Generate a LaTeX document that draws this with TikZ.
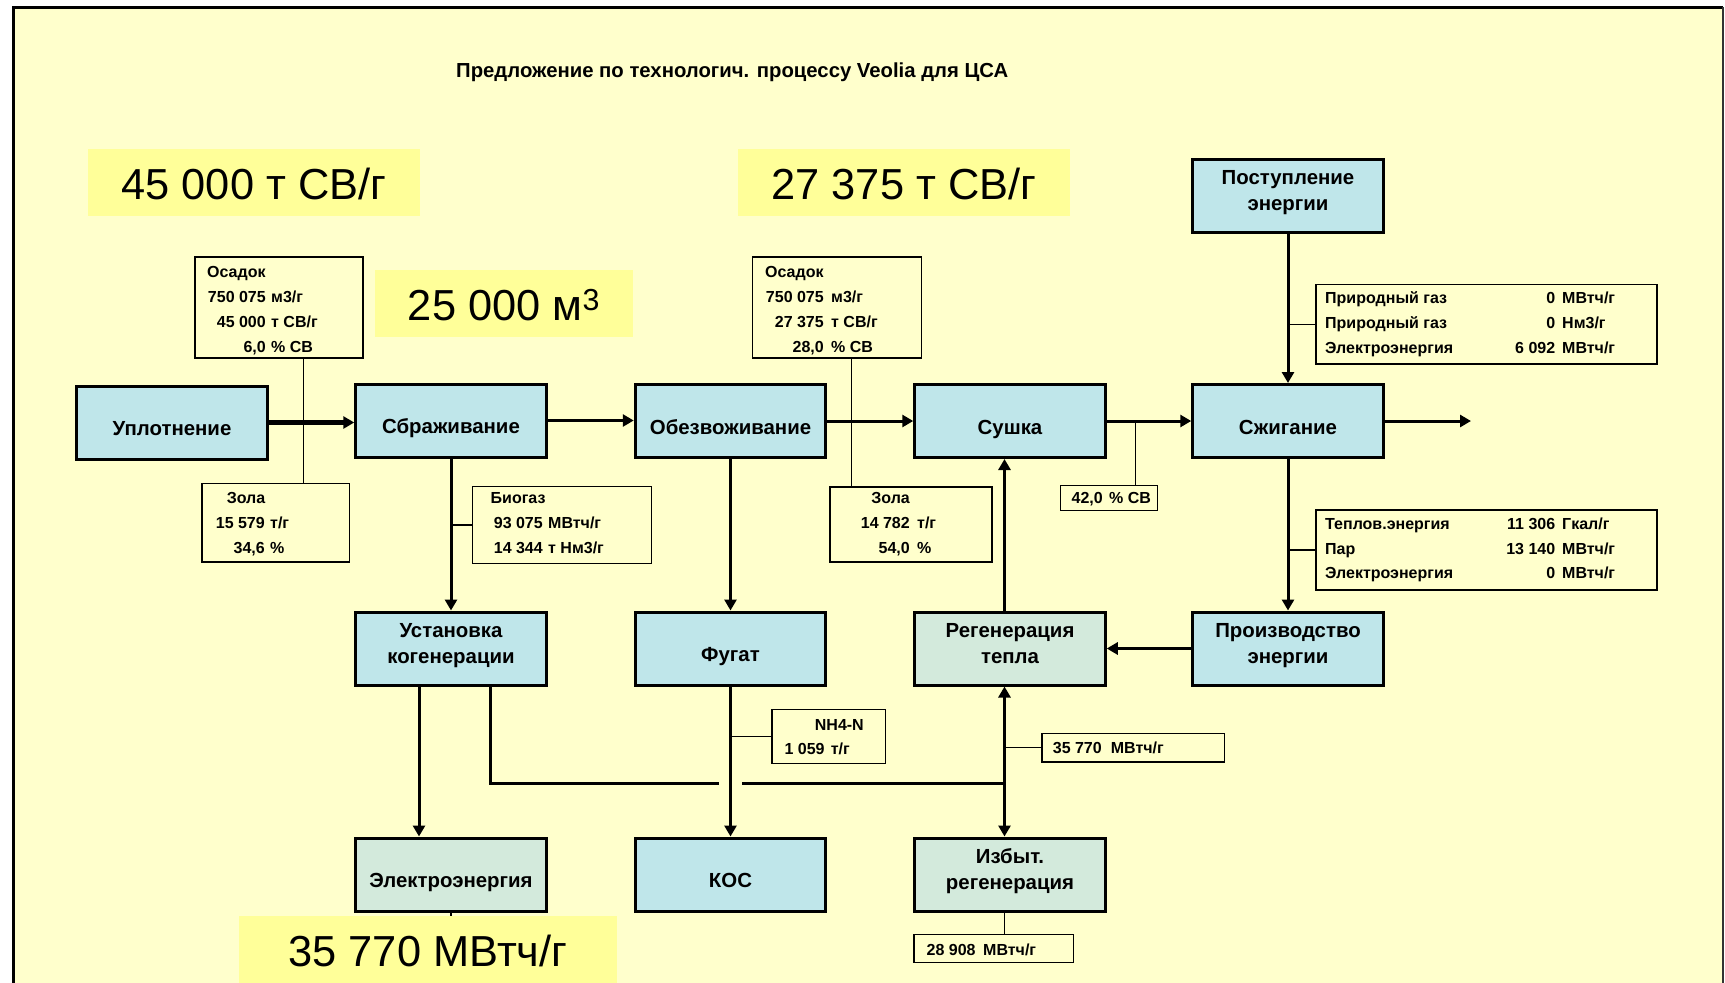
\documentclass[tikz,border=0pt]{standalone}
\usepackage{fontspec}
\setmainfont{Liberation Sans}
\usetikzlibrary{arrows.meta,calc}

\definecolor{page}{HTML}{FFFFCC}
\definecolor{hilite}{HTML}{FFFF99}
\definecolor{procblue}{HTML}{BFE6EA}
\definecolor{procgreen}{HTML}{D3EADC}

% two centred lines, baseline on the first one
\newcommand{\twoline}[2]{\begin{tabular}[t]{@{}c@{}}#1\\#2\end{tabular}}
% a value row: number flush right, unit flush left
\newcommand{\valrow}[6]{%
  \node[small,anchor=east] (#1n) at (#2,#4) {#5};
  \node[small,anchor=west] (#1u) at (#3,#4) {#6};}

\begin{document}
\begin{tikzpicture}[x=1pt,y=-1pt,
  proc/.style={draw, line width=3pt, fill=procblue, minimum width=190.5pt,
    minimum height=73pt, inner sep=0pt,
    font=\bfseries\fontsize{20.4}{26.4}\selectfont},
  oneline/.style={text height=30pt, text depth=3.6pt},
  twolines/.style={text height=10pt, text depth=32.2pt},
  info/.style 2 args={draw, line width=1.4pt, fill=page, inner sep=0pt,
    minimum width=#1, minimum height=#2},
  hl/.style 2 args={fill=hilite, inner sep=0pt, minimum width=#1, minimum height=#2,
    font=\fontsize{43.4}{50}\selectfont, text height=33pt, text depth=0pt},
  small/.style={font=\bfseries\fontsize{16}{20}\selectfont, inner sep=0pt,
    text height=11.5pt, text depth=0pt},
  flow/.style={line width=3pt},
  arr/.style={-{Triangle[length=11pt,width=12pt]}},
  tie/.style={line width=1.3pt}]

\useasboundingbox (0,0) rectangle (1725,983);

% sheet and frame
\fill[white] (0,0) rectangle (1725,983);
\fill[page] (13,7) rectangle (1723,983);
\draw[line width=3pt] (13,983) -- (13,7) -- (1723,7);
\draw[line width=1.6pt, black!80] (1723,7) -- (1723,983);

% heading
\node[anchor=west, inner sep=0pt, font=\bfseries\fontsize{20.3}{24}\selectfont,
  text height=14.5pt, text depth=0pt] (title) at (456,70)
  {Предложение по технологич. процессу Veolia для ЦСА};

% highlighted figures
\node[hl={332pt}{67pt}] (hl1) at (254,182.5) {45 000 т СВ/г};
\node[hl={332pt}{67pt}] (hl2) at (904,182.5) {27 375 т СВ/г};
\node[hl={258pt}{67pt}] (hl3) at (504,303.5) {25 000 м\textsuperscript{3}};

% process blocks
\node[proc, oneline] (upl) at (172,422.5) {Уплотнение};
\node[proc, oneline] (sbr) at (451,420.5) {Сбраживание};
\node[proc, oneline] (obez) at (730.5,421) {Обезвоживание};
\node[proc, oneline] (sush) at (1010,421) {Сушка};
\node[proc, oneline] (szh) at (1288,421) {Сжигание};
\node[proc, twolines] (post) at (1288,195.5) {\twoline{Поступление}{энергии}};
\node[proc, twolines] (ust) at (451,648.5) {\twoline{Установка}{когенерации}};
\node[proc, oneline] (fug) at (730.5,648.5) {Фугат};
\node[proc, twolines, fill=procgreen] (regen) at (1010,648.5) {\twoline{Регенерация}{тепла}};
\node[proc, twolines] (proizv) at (1288,648.5) {\twoline{Производство}{энергии}};
\node[proc, oneline, fill=procgreen] (elek) at (451,874.5) {Электроэнергия};
\node[proc, oneline] (kos) at (730.5,874.5) {КОС};
\node[proc, twolines, fill=procgreen] (izb) at (1010,874.5) {\twoline{Избыт.}{регенерация}};

% data boxes
\node[info={168pt}{101pt}] (osad1) at (279,307.5) {};
\node[info={147.5pt}{78.5pt}] (zola1) at (275.8,522.8) {};
\node[info={179pt}{77pt}] (biogas) at (562,525) {};
\node[info={169pt}{101pt}] (osad2) at (837.2,307.5) {};
\node[info={162pt}{75pt}] (zola2) at (911,524.5) {};
\node[info={96.6pt}{25pt}] (sv42) at (1109,498.2) {};
\node[info={341pt}{79.5pt}] (gas) at (1486.5,324.2) {};
\node[info={341pt}{80pt}] (heat) at (1486.5,550) {};
\node[info={113.7pt}{54pt}] (nh4) at (828.9,736.3) {};
\node[info={182.6pt}{28.7pt}] (mwh1) at (1133.1,747.7) {};
\node[info={159.6pt}{28pt}] (mwh2) at (993.6,948.3) {};

% data box contents
\node[small,anchor=west] (o1t) at (207,272) {Осадок};
\valrow{o1a}{266}{271}{297}{750 075}{м3/г}
\valrow{o1b}{266}{271}{322}{45 000}{т СВ/г}
\valrow{o1c}{266}{271}{347}{6,0}{\% СВ}

\node[small,anchor=east] (z1t) at (265.5,498) {Зола};
\valrow{z1a}{265}{270}{523}{15 579}{т/г}
\valrow{z1b}{265}{270}{548}{34,6}{\%}

\node[small,anchor=west] (bgt) at (490.5,498) {Биогаз};
\valrow{bga}{543}{548}{523}{93 075}{МВтч/г}
\valrow{bgb}{543}{548}{548}{14 344}{т Нм3/г}

\node[small,anchor=west] (o2t) at (765,272) {Осадок};
\valrow{o2a}{824}{831}{297}{750 075}{м3/г}
\valrow{o2b}{824}{831}{322}{27 375}{т СВ/г}
\valrow{o2c}{824}{831}{347}{28,0}{\% СВ}

\node[small,anchor=east] (z2t) at (910,498) {Зола};
\valrow{z2a}{910}{917}{523}{14 782}{т/г}
\valrow{z2b}{910}{917}{548}{54,0}{\%}

\valrow{sva}{1103}{1109}{498}{42,0}{\% СВ}

\node[small,anchor=west] (g1l) at (1325,298) {Природный газ};
\valrow{g1}{1555.4}{1562}{298}{0}{МВтч/г}
\node[small,anchor=west] (g2l) at (1325,323) {Природный газ};
\valrow{g2}{1555.4}{1562}{323}{0}{Нм3/г}
\node[small,anchor=west] (g3l) at (1325,348) {Электроэнергия};
\valrow{g3}{1555.4}{1562}{348}{6 092}{МВтч/г}

\node[small,anchor=west] (h1l) at (1325,524) {Теплов.энергия};
\valrow{h1}{1555.4}{1562}{524}{11 306}{Гкал/г}
\node[small,anchor=west] (h2l) at (1325,548.5) {Пар};
\valrow{h2}{1555.4}{1562}{548.5}{13 140}{МВтч/г}
\node[small,anchor=west] (h3l) at (1325,573) {Электроэнергия};
\valrow{h3}{1555.4}{1562}{573}{0}{МВтч/г}

\node[small,anchor=east] (nht) at (864,725) {NH4-N};
\valrow{nha}{824.8}{830.6}{749}{1 059}{т/г}

\valrow{m1}{1102}{1110.7}{748}{35 770}{МВтч/г}
\valrow{m2}{975.8}{983}{950}{28 908}{МВтч/г}

% auxiliary points
\coordinate (exit) at (1471,421);
\coordinate (jn) at (1004.5,783);
\coordinate (gapL) at (719,783);
\coordinate (gapR) at (742,783);
\coordinate (elTap) at ($(ust.south)+(-32,0)$);
\coordinate (hrTap) at ($(ust.south)+(39,0)$);
\coordinate (o1tap) at ($(osad1.south west)+(109,0)$);
\coordinate (o2tap) at ($(osad2.south west)+(99.3,0)$);
\coordinate (svtap) at ($(sv42.north west)+(75.3,0)$);

% main flow
\draw[arr, line width=5.5pt] (upl.east) -- (upl.east -| sbr.west);
\draw[flow, arr] (sbr.east) -- (sbr.east -| obez.west);
\draw[flow, arr] (obez.east) -- (obez.east -| sush.west);
\draw[flow, arr] (sush.east) -- (sush.east -| szh.west);
\draw[flow, arr] (szh.east) -- (exit);
\draw[flow, arr] (post.south) -- (szh.north);
\draw[flow, arr] (szh.south) -- (proizv.north);
\draw[flow, arr] (proizv.west) -- (proizv.west -| regen.east);
\draw[flow, arr] (sbr.south) -- (ust.north);
\draw[flow, arr] (obez.south) -- (fug.north);
\draw[flow, arr] (fug.south) -- (kos.north);
\draw[flow, arr] (elTap) -- (elTap |- elek.north);
\draw[flow] (hrTap) |- (gapL);
\draw[flow] (gapR) -- (jn);
\draw[flow, arr] (jn) -- (jn |- regen.south);
\draw[flow, arr] (jn) -- (jn |- izb.north);
\draw[flow, arr] (jn |- regen.north) -- (jn |- sush.south);

% data taps
\draw[tie] (o1tap) -- (o1tap |- zola1.north);
\draw[tie] (o2tap) -- (o2tap |- zola2.north);
\draw[tie] (biogas.west) -- (biogas.west -| sbr.south);
\draw[tie] (svtap) -- (svtap |- sush.east);
\draw[tie] (gas.west) -- (gas.west -| post.south);
\draw[tie] (heat.west) -- (heat.west -| szh.south);
\draw[tie] (nh4.west) -- (nh4.west -| fug.south);
\draw[tie] (mwh1.west) -- (mwh1.west -| jn);
\draw[tie] (jn |- izb.south) -- (jn |- mwh2.north);

% output figure
\node[hl={378pt}{68pt}] (hl4) at (428,950) {35 770 МВтч/г};
\draw[tie] (elek.south) -- (elek.south |- hl4.north);

\end{tikzpicture}
\end{document}
